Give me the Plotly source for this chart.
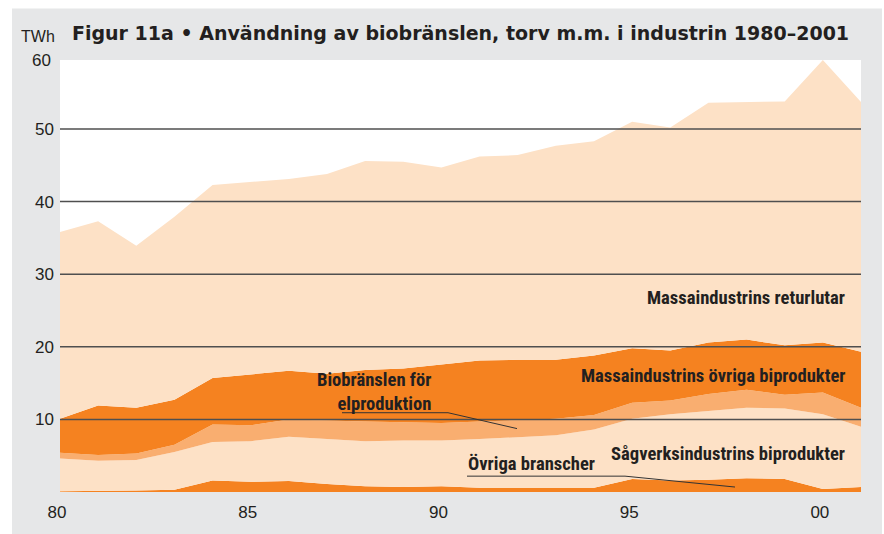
import plotly.graph_objects as go

years = list(range(1980, 2002))

ovriga_branscher = [0.1, 0.1, 0.2, 0.3, 1.6, 1.4, 1.5, 1.1, 0.8, 0.7, 0.8, 0.6, 0.6, 0.6, 0.6, 1.8, 1.6, 1.7, 1.9, 1.8, 0.4, 0.7]
sagverk_biprodukter = [4.5, 4.2, 4.2, 5.2, 5.3, 5.6, 6.1, 6.2, 6.2, 6.4, 6.3, 6.7, 6.9, 7.2, 8.0, 8.3, 9.1, 9.5, 9.7, 9.7, 10.3, 8.3]
biobransle_el = [0.8, 0.8, 0.9, 1.0, 2.4, 2.2, 2.4, 2.5, 2.7, 2.5, 2.4, 2.4, 2.4, 2.3, 2.0, 2.2, 1.9, 2.3, 2.5, 1.9, 3.0, 2.6]
massa_ovriga = [4.7, 6.8, 6.3, 6.2, 6.4, 7.0, 6.7, 6.5, 7.1, 7.4, 8.0, 8.4, 8.3, 8.1, 8.2, 7.5, 6.9, 7.1, 6.9, 6.8, 6.9, 7.7]
massa_returlutar = [25.7, 25.4, 22.3, 25.2, 26.6, 26.5, 26.4, 27.5, 28.8, 28.5, 27.2, 28.1, 28.2, 29.5, 29.5, 31.2, 30.7, 33.0, 32.7, 33.6, 38.9, 34.4]

x_tickvals = [1980, 1985, 1990, 1995, 2000]
x_ticktext = ["80", "85", "90", "95", "00"]
y_tickvals = [10, 20, 30, 40, 50]
y_ticktext = ["10", "20", "30", "40", "50"]

LIGHT = "#fde1c6"
DARK = "#f58220"
MED = "#f9ae70"
GREY = "#e6e7e8"
TXT = "#231f20"

series = [
    ("Övriga branscher", ovriga_branscher, DARK),
    ("Sågverksindustrins biprodukter", sagverk_biprodukter, LIGHT),
    ("Biobränslen för elproduktion", biobransle_el, MED),
    ("Massaindustrins övriga biprodukter", massa_ovriga, DARK),
    ("Massaindustrins returlutar", massa_returlutar, LIGHT),
]

fig = go.Figure()
for name, vals, col in series:
    fig.add_trace(go.Scatter(
        x=years, y=vals, name=name, mode="lines", stackgroup="one",
        line=dict(width=0, color=col), fillcolor=col, hoverinfo="x+y+name",
    ))

W, H = 884, 534
ml, mr, mt, mb = 60, 23, 60, 38
pw, ph = W - ml - mr, H - mt - mb

def px(x):
    return (x - ml) / pw

def py(y):
    return (H - mb - y) / ph

shapes = [
    dict(type="rect", xref="paper", yref="paper", x0=px(12), x1=px(882), y0=py(540), y1=py(8),
         fillcolor=GREY, line=dict(width=0), layer="below"),
    dict(type="rect", xref="paper", yref="paper", x0=0, x1=1, y0=0, y1=1,
         fillcolor="white", line=dict(width=0), layer="below"),
]
for v in y_tickvals:
    shapes.append(dict(type="line", xref="paper", yref="y", x0=0, x1=1, y0=v, y1=v,
                       line=dict(color="#4f4f4f", width=1.5), layer="above"))

# leader lines
shapes.append(dict(type="path", xref="paper", yref="paper",
                   path=f"M {px(342)},{py(416)} L {px(448)},{py(416)} L {px(517)},{py(432)}",
                   line=dict(color="#333333", width=1), layer="above"))
shapes.append(dict(type="path", xref="paper", yref="paper",
                   path=f"M {px(467)},{py(480)} L {px(625)},{py(480)} L {px(735)},{py(491)}",
                   line=dict(color="#333333", width=1), layer="above"))

LBL = dict(family="Roboto Condensed, DejaVu Sans Condensed, sans-serif", size=18.6, color=TXT, weight="bold")
REG = "Liberation Sans, Arial, sans-serif"

annotations = [
    dict(text="Figur 11a • Användning av biobränslen, torv m.m. i industrin 1980–2001",
         xref="paper", yref="paper", x=px(70), y=py(33), xanchor="left", yanchor="middle",
         showarrow=False, font=dict(family="DejaVu Sans, sans-serif", size=19, color=TXT, weight="bold")),
    dict(text="TWh", xref="paper", yref="paper", x=px(19), y=py(36), xanchor="left", yanchor="middle",
         showarrow=False, font=dict(family=REG, size=16, color=TXT)),
    dict(text="60", xref="paper", yref="paper", x=px(53), y=py(60), xanchor="right", yanchor="middle",
         showarrow=False, font=dict(family=REG, size=17, color=TXT)),
    dict(text="Massaindustrins returlutar", xref="paper", yref="paper", x=px(847), y=py(300),
         xanchor="right", yanchor="middle", showarrow=False, font=LBL),
    dict(text="Massaindustrins övriga biprodukter", xref="paper", yref="paper", x=px(847), y=py(379),
         xanchor="right", yanchor="middle", showarrow=False, font=LBL),
    dict(text="Sågverksindustrins biprodukter", xref="paper", yref="paper", x=px(847), y=py(458),
         xanchor="right", yanchor="middle", showarrow=False, font=LBL),
    dict(text="Biobränslen för<br>elproduktion", xref="paper", yref="paper", x=px(433), y=py(395),
         xanchor="right", yanchor="middle", align="right", showarrow=False, font=LBL),
    dict(text="Övriga branscher", xref="paper", yref="paper", x=px(466), y=py(468),
         xanchor="left", yanchor="middle", showarrow=False, font=LBL),
]

fig.update_layout(
    width=W, height=H,
    margin=dict(l=ml, r=mr, t=mt, b=mb, pad=0),
    paper_bgcolor="white", plot_bgcolor="white",
    showlegend=False,
    shapes=shapes, annotations=annotations,
    xaxis=dict(range=[1980, 2001], tickvals=x_tickvals, ticktext=x_ticktext, showgrid=False,
               zeroline=False, showline=False, ticks="", ticklabelstandoff=8, ticklabelshift=-3,
               tickfont=dict(family=REG, size=17, color=TXT)),
    yaxis=dict(range=[0, 59.5], tickvals=y_tickvals, ticktext=y_ticktext, showgrid=False,
               zeroline=False, showline=False, ticks="", ticklabelstandoff=5,
               tickfont=dict(family=REG, size=17, color=TXT)),
)

fig.write_html("out.html", config={"displayModeBar": False},
               post_script="document.body.style.margin='0';document.body.style.padding='0';")
